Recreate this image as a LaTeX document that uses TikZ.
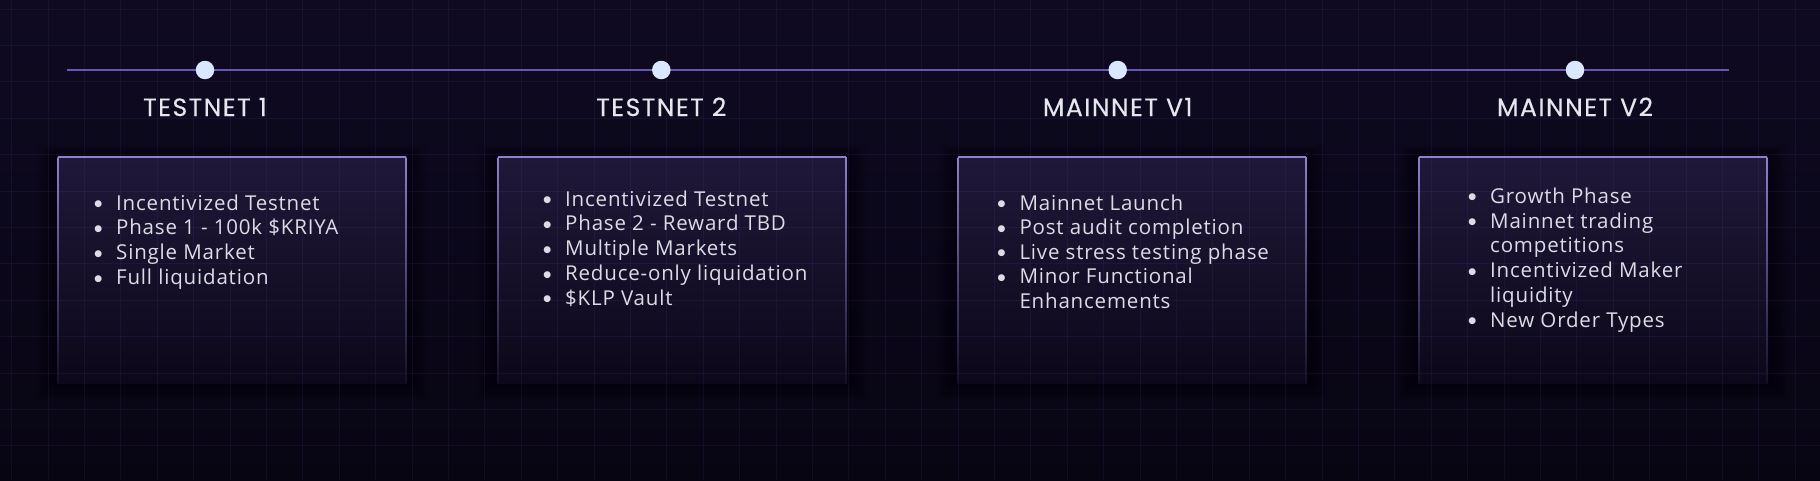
\documentclass[tikz,border=0pt]{standalone}
\usepackage{fontspec}
\newfontfamily\bodyf[LetterSpace=4]{Open Sans}
\newfontfamily\symf{DejaVu Sans}
\newfontfamily\titlef[LetterSpace=6,FakeBold=0.4]{Poppins}
\definecolor{bgtop}{HTML}{0F0A21}
\definecolor{bgbot}{HTML}{080513}
\definecolor{gridc}{HTML}{6A5ACD}
\definecolor{boxtop}{HTML}{1F1839}
\definecolor{boxbot}{HTML}{0C0819}
\definecolor{bordc}{HTML}{8D82CF}
\definecolor{bordbot}{HTML}{141026}
\definecolor{linec}{HTML}{6658B8}
\definecolor{dotc}{HTML}{DBE6FF}
\definecolor{titlec}{HTML}{E6E6EE}
\definecolor{txtc}{HTML}{DCDCE6}
\newcommand\bul{\llap{\raisebox{3.4pt}{\symf\fontsize{9}{9}\selectfont ●}\hspace{14pt}}}
\begin{document}
\begin{tikzpicture}[x=1pt,y=-1pt,
  gridline/.style={gridc,opacity=0.1,line width=1pt},
  dotnode/.style={circle,fill=dotc,inner sep=0pt,minimum size=18.5pt},
  titletxt/.style={anchor=base,inner sep=0pt,text=titlec,font=\titlef\fontsize{25}{30}\selectfont},
  itemtxt/.style={anchor=base west,inner sep=0pt,text=txtc,font=\bodyf\fontsize{20.5}{25}\selectfont}]
\useasboundingbox (0,0) rectangle (1820,480);
\shade[top color=bgtop,bottom color=bgbot] (0,0) rectangle (1820,480);
% boxes with shadows
\foreach \bx in {58,498.3,958.3,1419} {
  \foreach \s in {1,...,7} \fill[black,opacity=0.06] ({\bx-3*\s},{157-2*\s}) rectangle ({\bx+348+3*\s},{378+3*\s});
  \shade[top color=boxtop,bottom color=boxbot] (\bx,157) rectangle ({\bx+348},383);
}
% grid
\foreach \i in {0,...,49} \draw[gridline] ({11.7+36.4*\i},0) -- ({11.7+36.4*\i},480);
\foreach \j in {0,...,13} \draw[gridline] (0,{9.1+36.4*\j}) -- (1820,{9.1+36.4*\j});
% borders
\foreach \bx in {58,498.3,958.3,1419} {
  \shade[top color=bordc,bottom color=bordbot] ({\bx-0.6},157) rectangle ({\bx+0.6},383);
  \shade[top color=bordc,bottom color=bordbot] ({\bx+348-0.6},157) rectangle ({\bx+348+0.6},383);
  \draw[bordc,line width=1.2pt] (\bx,157) -- ({\bx+348},157);
}
% timeline
\coordinate (lstart) at (67,70);
\coordinate (lend) at (1729,70);
\draw[linec,line width=1.6pt] (lstart) -- (lend);
\node[dotnode] (d1) at (205,70) {};
\node[dotnode] (d2) at (661.3,70) {};
\node[dotnode] (d3) at (1117.7,70) {};
\node[dotnode] (d4) at (1575,70) {};
% titles
\node[titletxt] (t1) at (205,116) {TESTNET 1};
\node[titletxt] (t2) at (661.3,116) {TESTNET 2};
\node[titletxt] (t3) at (1117.7,116) {MAINNET V1};
\node[titletxt] (t4) at (1575,116) {MAINNET V2};
% box 1
\node[itemtxt] (a1) at (116,210) {\bul Incentivized Testnet};
\node[itemtxt] (a2) at (116,234.8) {\bul Phase 1 - 100k \$KRIYA};
\node[itemtxt] (a3) at (116,259.6) {\bul Single Market};
\node[itemtxt] (a4) at (116,284.4) {\bul Full liquidation};
% box 2
\node[itemtxt] (b1) at (565,206) {\bul Incentivized Testnet};
\node[itemtxt] (b2) at (565,230.8) {\bul Phase 2 - Reward TBD};
\node[itemtxt] (b3) at (565,255.6) {\bul Multiple Markets};
\node[itemtxt] (b4) at (565,280.4) {\bul Reduce-only liquidation};
\node[itemtxt] (b5) at (565,305.2) {\bul \$KLP Vault};
% box 3
\node[itemtxt] (c1) at (1019.3,210) {\bul Mainnet Launch};
\node[itemtxt] (c2) at (1019.3,234.6) {\bul Post audit completion};
\node[itemtxt] (c3) at (1019.3,259.2) {\bul Live stress testing phase};
\node[itemtxt] (c4) at (1019.3,283.8) {\bul Minor Functional};
\node[itemtxt] (c5) at (1019.3,308.4) {Enhancements};
% box 4
\node[itemtxt] (e1) at (1490,203.3) {\bul Growth Phase};
\node[itemtxt] (e2) at (1490,228.1) {\bul Mainnet trading};
\node[itemtxt] (e3) at (1490,252.9) {competitions};
\node[itemtxt] (e4) at (1490,277.7) {\bul Incentivized Maker};
\node[itemtxt] (e5) at (1490,302.5) {liquidity};
\node[itemtxt] (e6) at (1490,327.3) {\bul New Order Types};
\end{tikzpicture}
\end{document}
